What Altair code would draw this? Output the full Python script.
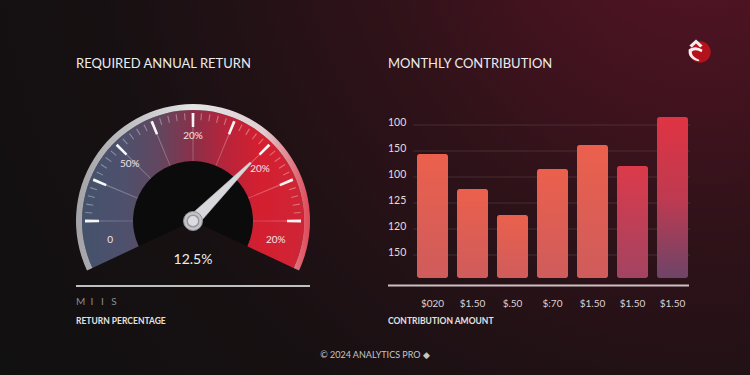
import math
import altair as alt
import pandas as pd

# ---------------- data ----------------
gauge_title = "REQUIRED ANNUAL RETURN"
gauge_value = 12.5
gauge_min = 0.0
gauge_max = 18.0
gauge_value_text = "12.5%"
gauge_label_text = ["0", "50%", "20%", "20%", "20%"]
gauge_label_deg = [-103, -48, 0, 52, 103]
major_tick_deg = [-90, -67.5, -45, -22.5, 0, 22.5, 45, 67.5, 90]
minor_tick_deg = [a + k * 4.5 for a in major_tick_deg[:-1] for k in (1, 2, 3, 4)]
NB = "\u00a0"
gauge_sub_text = "M" + NB * 2 + "I" + NB * 3 + "I" + NB * 3 + "S"
gauge_axis_title = "RETURN PERCENTAGE"

bar_title = "MONTHLY CONTRIBUTION"
bar_labels = ["$020", "$1.50", "$.50", "$:70", "$1.50", "$1.50", "$1.50"]
bar_values = [124, 89, 63, 109, 133, 112, 161]
y_tick_values = [153, 127, 101, 75, 49, 23]
y_tick_labels = ["100", "150", "100", "125", "120", "150"]
bar_axis_title = "CONTRIBUTION AMOUNT"
footer_text = "© 2024 ANALYTICS PRO ◆"

# ---------------- layout / style ----------------
W, H = 750, 375
FONT = "Lato"
CX, CY = 193, 221
SWEEP = 115
R_RIM_OUT, R_RIM_IN, R_IN = 117, 111, 60
TWO_PI = 2 * math.pi
theta_scale = alt.Scale(domain=[-SWEEP, SWEEP],
                        range=[TWO_PI - math.radians(SWEEP), TWO_PI + math.radians(SWEEP)])


def stops(pairs):
    return [{"offset": o, "color": c} for o, c in pairs]


bg_grad = {"gradient": "radial", "x1": 0.933, "y1": 0.117, "r1": 0,
           "x2": 0.933, "y2": 0.117, "r2": 1.15,
           "stops": stops([(0, "#581626"), (0.17, "#481321"), (0.39, "#2f1219"),
                           (0.56, "#211115"), (0.7, "#171012"), (1, "#111011")])}
band_grad = {"gradient": "linear", "x1": 0, "y1": 0, "x2": 1, "y2": 0,
             "stops": stops([(0, "#44526c"), (0.2, "#4f506c"), (0.35, "#63465f"),
                             (0.5, "#8a3049"), (0.65, "#b8243a"), (0.8, "#d41f30"),
                             (1, "#cf2536")])}
rim_grad = {"gradient": "linear", "x1": 0, "y1": 0, "x2": 1, "y2": 0,
            "stops": stops([(0, "#a2a2a7"), (0.5, "#e4e4e6"), (0.8, "#e2cdd0"),
                            (1, "#e04858")])}
bar_grad_a = {"gradient": "linear", "x1": 0, "y1": 0, "x2": 0, "y2": 1,
              "stops": stops([(0, "#eb604c"), (1, "#cf5c5c")])}
bar_grad_b = {"gradient": "linear", "x1": 0, "y1": 0, "x2": 0, "y2": 1,
              "stops": stops([(0, "#dc3a4a"), (1, "#a24462")])}
bar_grad_c = {"gradient": "linear", "x1": 0, "y1": 0, "x2": 0, "y2": 1,
              "stops": stops([(0, "#df3443"), (0.5, "#bf3a50"), (1, "#6e4468")])}


def text_layer(txt, x, y, size, color, align="left", weight="normal"):
    return alt.Chart(pd.DataFrame({"t": [txt]})).mark_text(
        align=align, baseline="middle", fontSize=size, fill=color, font=FONT,
        fontWeight=weight
    ).encode(x=alt.value(x), y=alt.value(y), text="t:N")


one = pd.DataFrame({"k": [0]})

background = alt.Chart(one).mark_rect(fill=bg_grad).encode(
    x=alt.value(0), x2=alt.value(W), y=alt.value(0), y2=alt.value(H))

# ---------------- gauge ----------------
span_df = pd.DataFrame({"a0": [-SWEEP], "a1": [SWEEP]})


def arc_span(radius, radius2, fill):
    return alt.Chart(span_df).mark_arc(radius=radius, radius2=radius2, fill=fill).encode(
        theta=alt.Theta("a0:Q", scale=theta_scale, stack=False),
        theta2="a1:Q", x=alt.value(CX), y=alt.value(CY))


hole = alt.Chart(span_df).mark_arc(radius=R_IN, fill="#0c0b0c").encode(
    theta=alt.Theta("a0:Q", scale=theta_scale, stack=False),
    theta2="a1:Q", x=alt.value(CX), y=alt.value(CY))
band = arc_span(R_RIM_IN, R_IN, band_grad)
rim = arc_span(R_RIM_OUT, R_RIM_IN, rim_grad)


def ticks(angles, half_deg, r_out, r_in, color, opacity):
    return alt.Chart(pd.DataFrame({"a": angles})).transform_calculate(
        a0=f"datum.a - {half_deg}", a1=f"datum.a + {half_deg}"
    ).mark_arc(radius=r_out, radius2=r_in, fill=color, opacity=opacity).encode(
        theta=alt.Theta("a0:Q", scale=theta_scale, stack=False),
        theta2="a1:Q", x=alt.value(CX), y=alt.value(CY))


inner_lines = ticks(major_tick_deg, 0.35, 95, R_IN, "#ffffff", 0.28)
minor_ticks = ticks(minor_tick_deg, 0.3, 108, 101, "#ffffff", 0.35)
major_ticks = ticks(major_tick_deg, 0.75, 108, 94, "#ffffff", 0.95)

gauge_labels = alt.Chart(pd.DataFrame({"a": gauge_label_deg, "t": gauge_label_text})).mark_text(
    radius=85, fontSize=10, fill="#f0e4e6", font=FONT, align="center", baseline="middle"
).encode(theta=alt.Theta("a:Q", scale=theta_scale, stack=False), text="t:N",
         x=alt.value(CX), y=alt.value(CY))

needle_path = "M -0.08,0.07 L 0.08,0.07 L 0.012,-1 L -0.012,-1 Z"
needle = alt.Chart(pd.DataFrame({"v": [gauge_value]})).mark_point(
    shape=needle_path, filled=True, fill="#d8d8dc", stroke="#b8b8bc", strokeWidth=0.5,
    size=(2 * 82) ** 2, opacity=1
).encode(angle=alt.Angle("v:Q", scale=alt.Scale(domain=[gauge_min, gauge_max],
                                                  range=[360 - SWEEP, 360 + SWEEP])),
         x=alt.value(CX), y=alt.value(CY))
hub_outer = alt.Chart(one).mark_point(shape="circle", filled=True, fill="#c4c4c8",
                                      stroke="#8e8e92", strokeWidth=1, size=360, opacity=1).encode(
    x=alt.value(CX), y=alt.value(CY))
hub_inner = alt.Chart(one).mark_point(shape="circle", filled=True, fill="#dcdce0",
                                      stroke="#9a9a9e", strokeWidth=1.5, size=135, opacity=1).encode(
    x=alt.value(CX), y=alt.value(CY))

gauge_value_lbl = text_layer(gauge_value_text, CX, 260, 14, "#ececec", align="center")
gauge_title_lbl = text_layer(gauge_title, 76, 64, 13, "#ececec")
gauge_rule = alt.Chart(one).mark_rule(stroke="#bfbfbf", strokeWidth=2).encode(
    x=alt.value(76), x2=alt.value(310), y=alt.value(286))
gauge_sub = text_layer(gauge_sub_text, 76, 302, 10, "#8c8c8c")
gauge_axis = text_layer(gauge_axis_title, 76, 321, 8.5, "#e2e2e2", weight="bold")

# ---------------- bars ----------------
bar_df = pd.DataFrame({"idx": list(range(len(bar_values))), "label": bar_labels,
                       "value": bar_values})
xs = alt.Scale(domain=list(range(len(bar_values))), range=[412.5, 692.5],
               paddingInner=0.225, paddingOuter=0.1125)
ys = alt.Scale(domain=[0, 170], range=[278, 108], nice=False)

grid_df = pd.DataFrame({"v": y_tick_values, "t": y_tick_labels})
grid = alt.Chart(grid_df).mark_rule(stroke="#ffffff", strokeOpacity=0.11, strokeWidth=1).encode(
    y=alt.Y("v:Q", scale=ys, axis=None), x=alt.value(413), x2=alt.value(690))
ylabels = alt.Chart(grid_df).mark_text(align="left", baseline="middle", dy=-2, fontSize=10.5,
                                       fill="#e6dcdd", font=FONT).encode(
    y=alt.Y("v:Q", scale=ys, axis=None), x=alt.value(388), text="t:N")


def bar_layer(flt, grad):
    return alt.Chart(bar_df).transform_filter(flt).mark_bar(
        fill=grad, cornerRadius=2.5).encode(
        x=alt.X("idx:O", scale=xs, axis=None),
        y=alt.Y("value:Q", scale=ys, axis=None))


bars_a = bar_layer("datum.idx < 5", bar_grad_a)
bars_b = bar_layer("datum.idx == 5", bar_grad_b)
bars_c = bar_layer("datum.idx == 6", bar_grad_c)

xlabels = alt.Chart(bar_df).mark_text(baseline="middle", fontSize=10, fill="#ddd3d4",
                                      font=FONT).encode(
    x=alt.X("idx:O", scale=xs, axis=None), y=alt.value(304), text="label:N")
bar_rule = alt.Chart(one).mark_rule(stroke="#cdbfc3", strokeWidth=2).encode(
    x=alt.value(388), x2=alt.value(689), y=alt.value(285.5))
bar_title_lbl = text_layer(bar_title, 388, 64, 13, "#ececec")
bar_axis = text_layer(bar_axis_title, 388, 321, 8.5, "#e2e2e2", weight="bold")

# ---------------- logo & footer ----------------
logo_bg = alt.Chart(one).mark_point(shape="circle", filled=True, fill="#b3121c", size=460,
                                    opacity=1).encode(x=alt.value(700), y=alt.value(52))
logo_path = ("M-0.55,-0.45 L0,-0.95 L0.55,-0.45 L0.35,-0.3 L0,-0.62 L-0.35,-0.3 Z "
             "M-0.6,-0.15 Q0,-0.5 0.55,-0.1 L0.45,0.1 Q0,-0.2 -0.35,0.05 "
             "Q-0.4,0.5 0.3,0.75 L0.2,0.85 Q-0.75,0.6 -0.6,-0.15 Z")
logo_fg = alt.Chart(one).mark_point(shape=logo_path, filled=True, fill="#f4eeee", size=576,
                                    opacity=1).encode(x=alt.value(696), y=alt.value(51))
footer = text_layer(footer_text, 375, 355, 9, "#c6c6c6", align="center")

chart = alt.layer(
    background,
    hole, band, inner_lines, minor_ticks, major_ticks, rim, gauge_labels,
    needle, hub_outer, hub_inner, gauge_value_lbl, gauge_title_lbl, gauge_rule,
    gauge_sub, gauge_axis,
    grid, ylabels, bars_a, bars_b, bars_c, bar_rule, xlabels, bar_title_lbl, bar_axis,
    logo_bg, logo_fg, footer,
).properties(
    width=W, height=H, padding=0,
    autosize=alt.AutoSizeParams(type="none"),
    background="#121011",
).configure_view(stroke=None)

chart.save("out.html", embed_options={"renderer": "svg", "actions": False})
